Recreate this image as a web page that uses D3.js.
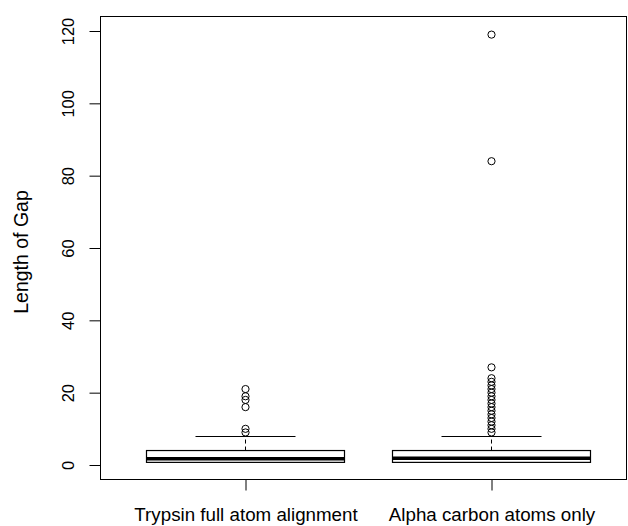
<!DOCTYPE html>
<html>
<head>
<meta charset="utf-8">
<script src="https://cdn.jsdelivr.net/npm/d3@7"></script>
<style>
  body { margin: 0; background: #fff; }
  text { font-family: "Liberation Sans", Arial, sans-serif; fill: #000; }
</style>
</head>
<body>
<svg id="chart"></svg>
<script>
// Box summary per group
const groups = ["Trypsin full atom alignment", "Alpha carbon atoms only"];
const lowerWhisker = [1, 1];
const q1 = [1, 1];
const medians = [1.7, 1.9];
const q3 = [4, 4];
const upperWhisker = [8, 8];
const outliers = [
  [9, 10, 16, 18, 19, 21],
  [9, 10, 11, 12, 13, 14, 15, 16, 17, 18, 19, 20, 21, 22, 23, 24, 27, 84, 119]
];
const yTicks = [0, 20, 40, 60, 80, 100, 120];

const width = 628,
  height = 526;

const svg = d3.select("#chart").attr("width", width).attr("height", height);

// Scales
const x = d3.scalePoint().domain(groups).range([245, 491]);
const y = d3.scaleLinear().domain([0, 120]).range([465, 31]);

// Plot frame
svg
  .append("rect")
  .attr("x", 100.5)
  .attr("y", 16.5)
  .attr("width", 526)
  .attr("height", 463)
  .attr("fill", "none")
  .attr("stroke", "#000")
  .attr("stroke-width", 1);

// Y axis
const yAxis = svg
  .append("g")
  .attr("transform", "translate(100.5,0)")
  .call(d3.axisLeft(y).tickValues(yTicks).tickSize(11).tickPadding(0).tickFormat(d3.format("d")));
yAxis.select(".domain").attr("d", `M0,${y(0)}V${y(120)}`);
yAxis
  .selectAll(".tick text")
  .attr("transform", "rotate(-90)")
  .attr("x", 0)
  .attr("y", -32.5)
  .attr("dy", "0.35em")
  .attr("text-anchor", "middle")
  .style("font-family", "'Liberation Sans', Arial, sans-serif")
  .style("font-size", "16.5px");

// Y label
svg
  .append("text")
  .attr("transform", "rotate(-90)")
  .attr("x", -252)
  .attr("y", 28)
  .attr("text-anchor", "middle")
  .style("font-size", "19.5px")
  .text("Length of Gap");

// X axis ticks + labels
const xAxis = svg
  .append("g")
  .attr("transform", "translate(0.5,479.5)")
  .call(d3.axisBottom(x).tickSize(11).tickPadding(0));
xAxis.select(".domain").remove();
xAxis
  .selectAll(".tick text")
  .attr("y", 41.5)
  .attr("dy", 0)
  .style("font-family", "'Liberation Sans', Arial, sans-serif")
  .style("font-size", "18.75px");

// Boxes
const boxHalf = 99,
  capHalf = 50;
groups.forEach((g, i) => {
  const cx = x(g) + 0.5;
  const gEl = svg.append("g");

  // dashed whiskers
  gEl
    .append("line")
    .attr("x1", cx)
    .attr("x2", cx)
    .attr("y1", y(q3[i]))
    .attr("y2", y(upperWhisker[i]))
    .attr("stroke", "#000")
    .attr("stroke-dasharray", "4,3");
  gEl
    .append("line")
    .attr("x1", cx)
    .attr("x2", cx)
    .attr("y1", y(q1[i]))
    .attr("y2", y(lowerWhisker[i]))
    .attr("stroke", "#000")
    .attr("stroke-dasharray", "4,3");

  // caps
  [upperWhisker[i], lowerWhisker[i]].forEach((v) => {
    gEl
      .append("line")
      .attr("x1", cx - capHalf)
      .attr("x2", cx + capHalf)
      .attr("y1", Math.round(y(v)) + 0.5)
      .attr("y2", Math.round(y(v)) + 0.5)
      .attr("stroke", "#000");
  });

  // box
  gEl
    .append("rect")
    .attr("x", cx - boxHalf)
    .attr("y", y(q3[i]))
    .attr("width", boxHalf * 2)
    .attr("height", y(q1[i]) - y(q3[i]) + 1)
    .attr("fill", "#fff")
    .attr("stroke", "#000")
    .attr("stroke-width", 1.2);

  // median
  gEl
    .append("line")
    .attr("x1", cx - boxHalf)
    .attr("x2", cx + boxHalf)
    .attr("y1", y(medians[i]))
    .attr("y2", y(medians[i]))
    .attr("stroke", "#000")
    .attr("stroke-width", 3.5);

  // outliers
  gEl
    .selectAll("circle")
    .data(outliers[i])
    .enter()
    .append("circle")
    .attr("cx", cx)
    .attr("cy", (d) => y(d))
    .attr("r", 3.6)
    .attr("fill", "none")
    .attr("stroke", "#000")
    .attr("stroke-width", 1);
});
</script>
</body>
</html>
